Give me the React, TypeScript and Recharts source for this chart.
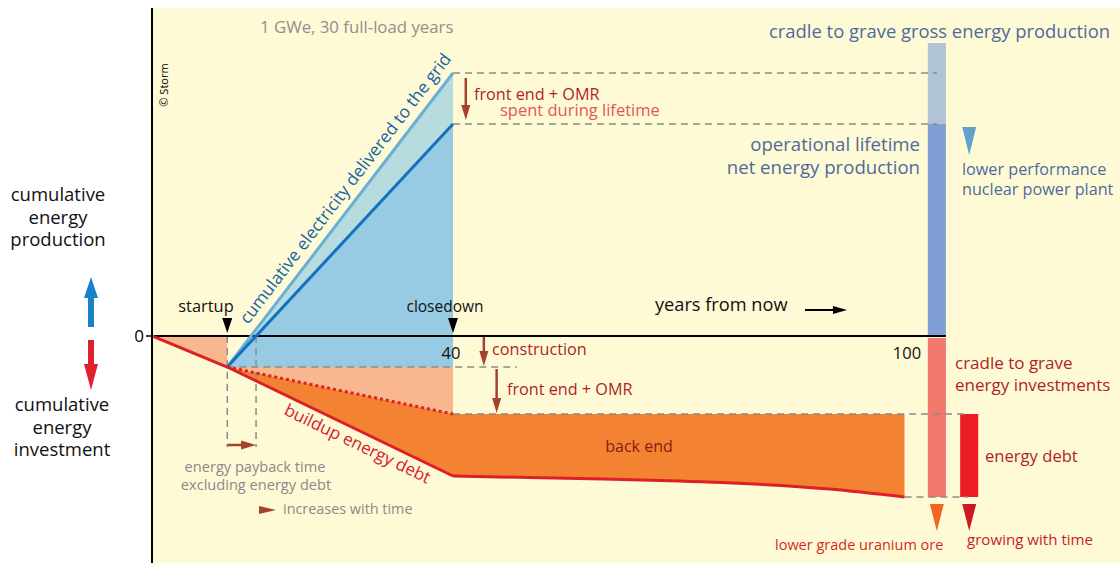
import React from 'react';
import { ComposedChart, Area, Line, XAxis, YAxis, ReferenceLine, ReferenceArea, ReferenceDot } from 'recharts';

const FONT = '"Open Sans", "DejaVu Sans", sans-serif';

// years from now
const startupYear = 10;
const closedownYear = 40;
const lifeYears = [startupYear, closedownYear];

// cumulative energy (arbitrary units), production positive, investment negative
const grossDelivered = [-31, 263];
const netDelivered = [-31, 212];
const constructionLevel = -31;
const frontEndDebt = [-31, -78];
const buildupYears = [0, startupYear, closedownYear];
const buildupDebt = [0, -31, -140];
const backEndYears = [40, 50, 60, 70, 80, 90, 100];
const backEndDebt = [-140, -141.5, -143, -145, -148, -153, -161];
const backEndTop = -78;

// totals shown as bars on the right
const grossTotal = 293;
const netTotal = 212;
const investTotal = -161;
const debtTop = -78;

const X_MAX = 128.64;
const Y_MIN = -227;
const Y_MAX = 328;

// bar columns (years)
const barA = [103.1, 105.5];
const barB = [107.4, 109.8];

const paybackYear =
  lifeYears[0] + ((0 - netDelivered[0]) / (netDelivered[1] - netDelivered[0])) * (lifeYears[1] - lifeYears[0]);

const allYears = Array.from(new Set([...buildupYears, ...lifeYears, ...backEndYears])).sort((a, b) => a - b);
const rows = allYears.map((year) => {
  const row: any = { year };
  const li = lifeYears.indexOf(year);
  const bi = buildupYears.indexOf(year);
  const ei = backEndYears.indexOf(year);
  if (bi >= 0) {
    row.debt = buildupDebt[bi];
    if (year <= startupYear) row.preStart = [buildupDebt[bi], 0];
  }
  if (li >= 0) {
    row.gross = grossDelivered[li];
    row.net = netDelivered[li];
    row.dotted = frontEndDebt[li];
    row.blueFill = [constructionLevel, netDelivered[li]];
    row.tealBand = [netDelivered[li], grossDelivered[li]];
    row.wedge = [frontEndDebt[li], constructionLevel];
    row.buildup = [buildupDebt[bi], frontEndDebt[li]];
  }
  if (ei >= 0) {
    row.backDebt = backEndDebt[ei];
    row.backEnd = [backEndDebt[ei], backEndTop];
  }
  return row;
});

const DASH = { stroke: '#8c8c8c', strokeWidth: 1.5, strokeDasharray: '7 5' };
const BROWN = '#a3422e';

const triDown = (w: number, h: number, color: string) => (p: any) => (
  <path d={`M${p.cx - w / 2},${p.cy - h}L${p.cx + w / 2},${p.cy - h}L${p.cx},${p.cy}Z`} fill={color} />
);
const triRight = (w: number, h: number, color: string) => (p: any) => (
  <path d={`M${p.cx - w},${p.cy - h / 2}L${p.cx - w},${p.cy + h / 2}L${p.cx},${p.cy}Z`} fill={color} />
);

const vArrow = (key: string, x: number, from: number, to: number) => [
  <ReferenceLine key={key + 'l'} segment={[{ x, y: from }, { x, y: to + 10 }]} stroke={BROWN} strokeWidth={2.5} ifOverflow="visible" />,
  <ReferenceDot key={key + 'h'} x={x} y={to} r={0} ifOverflow="visible" shape={triDown(9, 15, BROWN)} />,
];

export default function App() {
  return (
    <div style={{ position: 'absolute', left: 0, top: 0, width: 1120, height: 563, background: '#fff', fontFamily: FONT }}>
      <div style={{ position: 'absolute', left: 152, top: 8, width: 968, height: 555, background: '#fffad6' }} />
      <div style={{ position: 'absolute', left: 0, top: 0 }}>
        <ComposedChart width={1120} height={563} data={rows} margin={{ top: 8, right: 0, bottom: 0, left: 0 }}>
          <XAxis type="number" dataKey="year" domain={[0, X_MAX]} hide allowDataOverflow />
          <YAxis
            type="number"
            domain={[Y_MIN, Y_MAX]}
            ticks={[0]}
            width={152}
            allowDataOverflow
            axisLine={{ stroke: '#000', strokeWidth: 2 }}
            tickLine={{ stroke: '#000', strokeWidth: 1.5 }}
            tickSize={6}
            tick={{ fill: '#000', fontSize: 17, fontFamily: FONT }}
          />

          <Area dataKey="preStart" type="linear" stroke="none" fill="#f8b78e" fillOpacity={1} isAnimationActive={false} />
          <Area dataKey="blueFill" type="linear" stroke="none" fill="#97cbe3" fillOpacity={1} isAnimationActive={false} />
          <Area dataKey="tealBand" type="linear" stroke="none" fill="#b7dcdf" fillOpacity={1} isAnimationActive={false} />
          <Area dataKey="wedge" type="linear" stroke="none" fill="#f8b78e" fillOpacity={1} isAnimationActive={false} />
          <Area dataKey="buildup" type="linear" stroke="none" fill="#f38233" fillOpacity={1} isAnimationActive={false} />
          <Area dataKey="backEnd" type="monotone" stroke="none" fill="#f38233" fillOpacity={1} isAnimationActive={false} />

          {/* right-hand bars */}
          <ReferenceArea x1={barA[0]} x2={barA[1]} y1={netTotal} y2={grossTotal} fill="#b1c4d3" fillOpacity={1} stroke="none" ifOverflow="visible" />
          <ReferenceArea x1={barA[0]} x2={barA[1]} y1={0} y2={netTotal} fill="#7f9fd5" fillOpacity={1} stroke="none" ifOverflow="visible" />
          <ReferenceArea x1={barA[0]} x2={barA[1]} y1={investTotal} y2={-2} fill="#f2776c" fillOpacity={1} stroke="none" ifOverflow="visible" />
          <ReferenceArea x1={barB[0]} x2={barB[1]} y1={investTotal} y2={debtTop} fill="#ec1c24" fillOpacity={1} stroke="none" ifOverflow="visible" />

          {/* dashed guides */}
          <ReferenceLine segment={[{ x: closedownYear, y: grossDelivered[1] }, { x: 104.3, y: grossDelivered[1] }]} {...DASH} ifOverflow="visible" />
          <ReferenceLine segment={[{ x: closedownYear, y: netDelivered[1] }, { x: 104.3, y: netDelivered[1] }]} {...DASH} ifOverflow="visible" />
          <ReferenceLine segment={[{ x: startupYear, y: constructionLevel }, { x: 48.5, y: constructionLevel }]} {...DASH} ifOverflow="visible" />
          <ReferenceLine segment={[{ x: closedownYear, y: backEndTop }, { x: 108.4, y: backEndTop }]} {...DASH} ifOverflow="visible" />
          <ReferenceLine segment={[{ x: 100, y: investTotal }, { x: 108.4, y: investTotal }]} {...DASH} ifOverflow="visible" />
          <ReferenceLine segment={[{ x: startupYear, y: 0 }, { x: startupYear, y: -111 }]} {...DASH} ifOverflow="visible" />
          <ReferenceLine segment={[{ x: paybackYear, y: 0 }, { x: paybackYear, y: -111 }]} {...DASH} ifOverflow="visible" />

          {/* zero line */}
          <ReferenceLine segment={[{ x: 0, y: 0 }, { x: barA[1], y: 0 }]} stroke="#000" strokeWidth={2} ifOverflow="visible" />

          <Line dataKey="gross" type="linear" stroke="#6aaed6" strokeWidth={3} dot={false} activeDot={false} isAnimationActive={false} />
          <Line dataKey="net" type="linear" stroke="#1670c0" strokeWidth={3} dot={false} activeDot={false} isAnimationActive={false} />
          <Line dataKey="dotted" type="linear" stroke="#dd1f26" strokeWidth={3} strokeDasharray="3 3" dot={false} activeDot={false} isAnimationActive={false} />
          <Line dataKey="debt" type="linear" stroke="#dd1f26" strokeWidth={3} dot={false} activeDot={false} isAnimationActive={false} />
          <Line dataKey="backDebt" type="monotone" stroke="#dd1f26" strokeWidth={3} dot={false} activeDot={false} isAnimationActive={false} />

          {/* arrows */}
          {vArrow('a', 41.7, grossDelivered[1] - 5, netDelivered[1] + 4)}
          {vArrow('b', 44.1, -1, constructionLevel + 1)}
          {vArrow('c', 45.8, constructionLevel - 2, backEndTop + 1)}
          <ReferenceLine segment={[{ x: startupYear, y: -109 }, { x: paybackYear - 1.5, y: -109 }]} stroke={BROWN} strokeWidth={2.5} ifOverflow="visible" />
          <ReferenceDot x={paybackYear} y={-109} r={0} ifOverflow="visible" shape={triRight(15, 9, BROWN)} />

          {/* startup / closedown markers */}
          <ReferenceDot x={startupYear} y={3} r={0} ifOverflow="visible" shape={triDown(10, 15, '#000')} />
          <ReferenceDot x={closedownYear} y={3} r={0} ifOverflow="visible" shape={triDown(10, 15, '#000')} />

          {/* right-hand indicators */}
          <ReferenceDot x={108.6} y={181} r={0} ifOverflow="visible" shape={triDown(14, 28, '#5fa3cb')} />
          <ReferenceDot x={104.3} y={-195} r={0} ifOverflow="visible" shape={triDown(14, 27, '#f26522')} />
          <ReferenceDot x={108.6} y={-195} r={0} ifOverflow="visible" shape={triDown(14, 27, '#cc1a25')} />
        </ComposedChart>
      </div>

      <svg width={1120} height={563} style={{ position: 'absolute', left: 0, top: 0, pointerEvents: 'none' }} fontFamily={FONT}>
        {/* left side labels */}
        <g fontSize={18.5} fill="#111" textAnchor="middle">
          <text x={58} y={201}>cumulative</text>
          <text x={58} y={224}>energy</text>
          <text x={58} y={246}>production</text>
          <text x={62} y={411}>cumulative</text>
          <text x={62} y={434}>energy</text>
          <text x={62} y={456}>investment</text>
        </g>
        <path d="M88,327L88,298L84,298L91,277L98,298L94,298L94,327Z" fill="#1a80c8" />
        <path d="M88,340L88,364L84,364L91,390L98,364L94,364L94,340Z" fill="#e0202a" />

        <text x={168} y={85} fontSize={11} fill="#000" textAnchor="middle" transform="rotate(-90 168 85)">© Storm</text>

        <text x={260} y={33} fontSize={16.8} fill="#8f8f8f">1 GWe, 30 full-load years</text>
        <text x={1110} y={38} fontSize={18.4} fill="#4e6a9c" textAnchor="end">cradle to grave gross energy production</text>
        <text x={474} y={100} fontSize={16.2} fill="#b01e2a">front end + OMR</text>
        <text x={500} y={116} fontSize={16.5} fill="#e0585a">spent during lifetime</text>
        <g fontSize={18.6} fill="#4e6a9c" textAnchor="end">
          <text x={920} y={151}>operational lifetime</text>
          <text x={920} y={174}>net energy production</text>
        </g>
        <g fontSize={16.2} fill="#4e6a9c">
          <text x={962} y={175}>lower performance</text>
          <text x={962} y={195}>nuclear power plant</text>
        </g>

        <text x={655} y={311} fontSize={18.2} fill="#111">years from now</text>
        <path d="M805,310L836,310" stroke="#000" strokeWidth={2} />
        <path d="M833,306L847,310L833,314Z" fill="#000" />

        <g fontSize={15.5} fill="#111" textAnchor="middle">
          <text x={206} y={312} fontSize={16.4}>startup</text>
          <text x={445} y={312}>closedown</text>
          <text x={451} y={359} fontSize={16.5}>40</text>
          <text x={907} y={359} fontSize={16.5}>100</text>
        </g>

        <text x={492} y={355} fontSize={16.2} fill="#b01e2a">construction</text>
        <text x={507} y={395} fontSize={16.2} fill="#b01e2a">front end + OMR</text>
        <g fontSize={17} fill="#b01e2a">
          <text x={955} y={369}>cradle to grave</text>
          <text x={955} y={391}>energy investments</text>
          <text x={985} y={462} fontSize={16.6}>energy debt</text>
        </g>
        <text x={639} y={452} fontSize={16} fill="#8b1a0e" textAnchor="middle">back end</text>

        <text x={775} y={550} fontSize={14.5} fill="#d42a1c">lower grade uranium ore</text>
        <text x={967} y={545} fontSize={15.1} fill="#c41e2a">growing with time</text>

        <g fontSize={14.6} fill="#8a8a8a" textAnchor="middle">
          <text x={255} y={472}>energy payback time</text>
          <text x={256} y={490}>excluding energy debt</text>
        </g>
        <path d="M259,506L276,510L259,514Z" fill={BROWN} />
        <text x={283} y={514} fontSize={14.4} fill="#8a8a8a">increases with time</text>

        <text x={350} y={192} fontSize={17.2} fill="#1464a6" textAnchor="middle" transform="rotate(-52.5 350 192)">
          cumulative electricity delivered to the grid
        </text>
        <text x={355} y={449} fontSize={17} fill="#d42030" textAnchor="middle" transform="rotate(25.85 355 449)">
          buildup energy debt
        </text>
      </svg>
    </div>
  );
}
